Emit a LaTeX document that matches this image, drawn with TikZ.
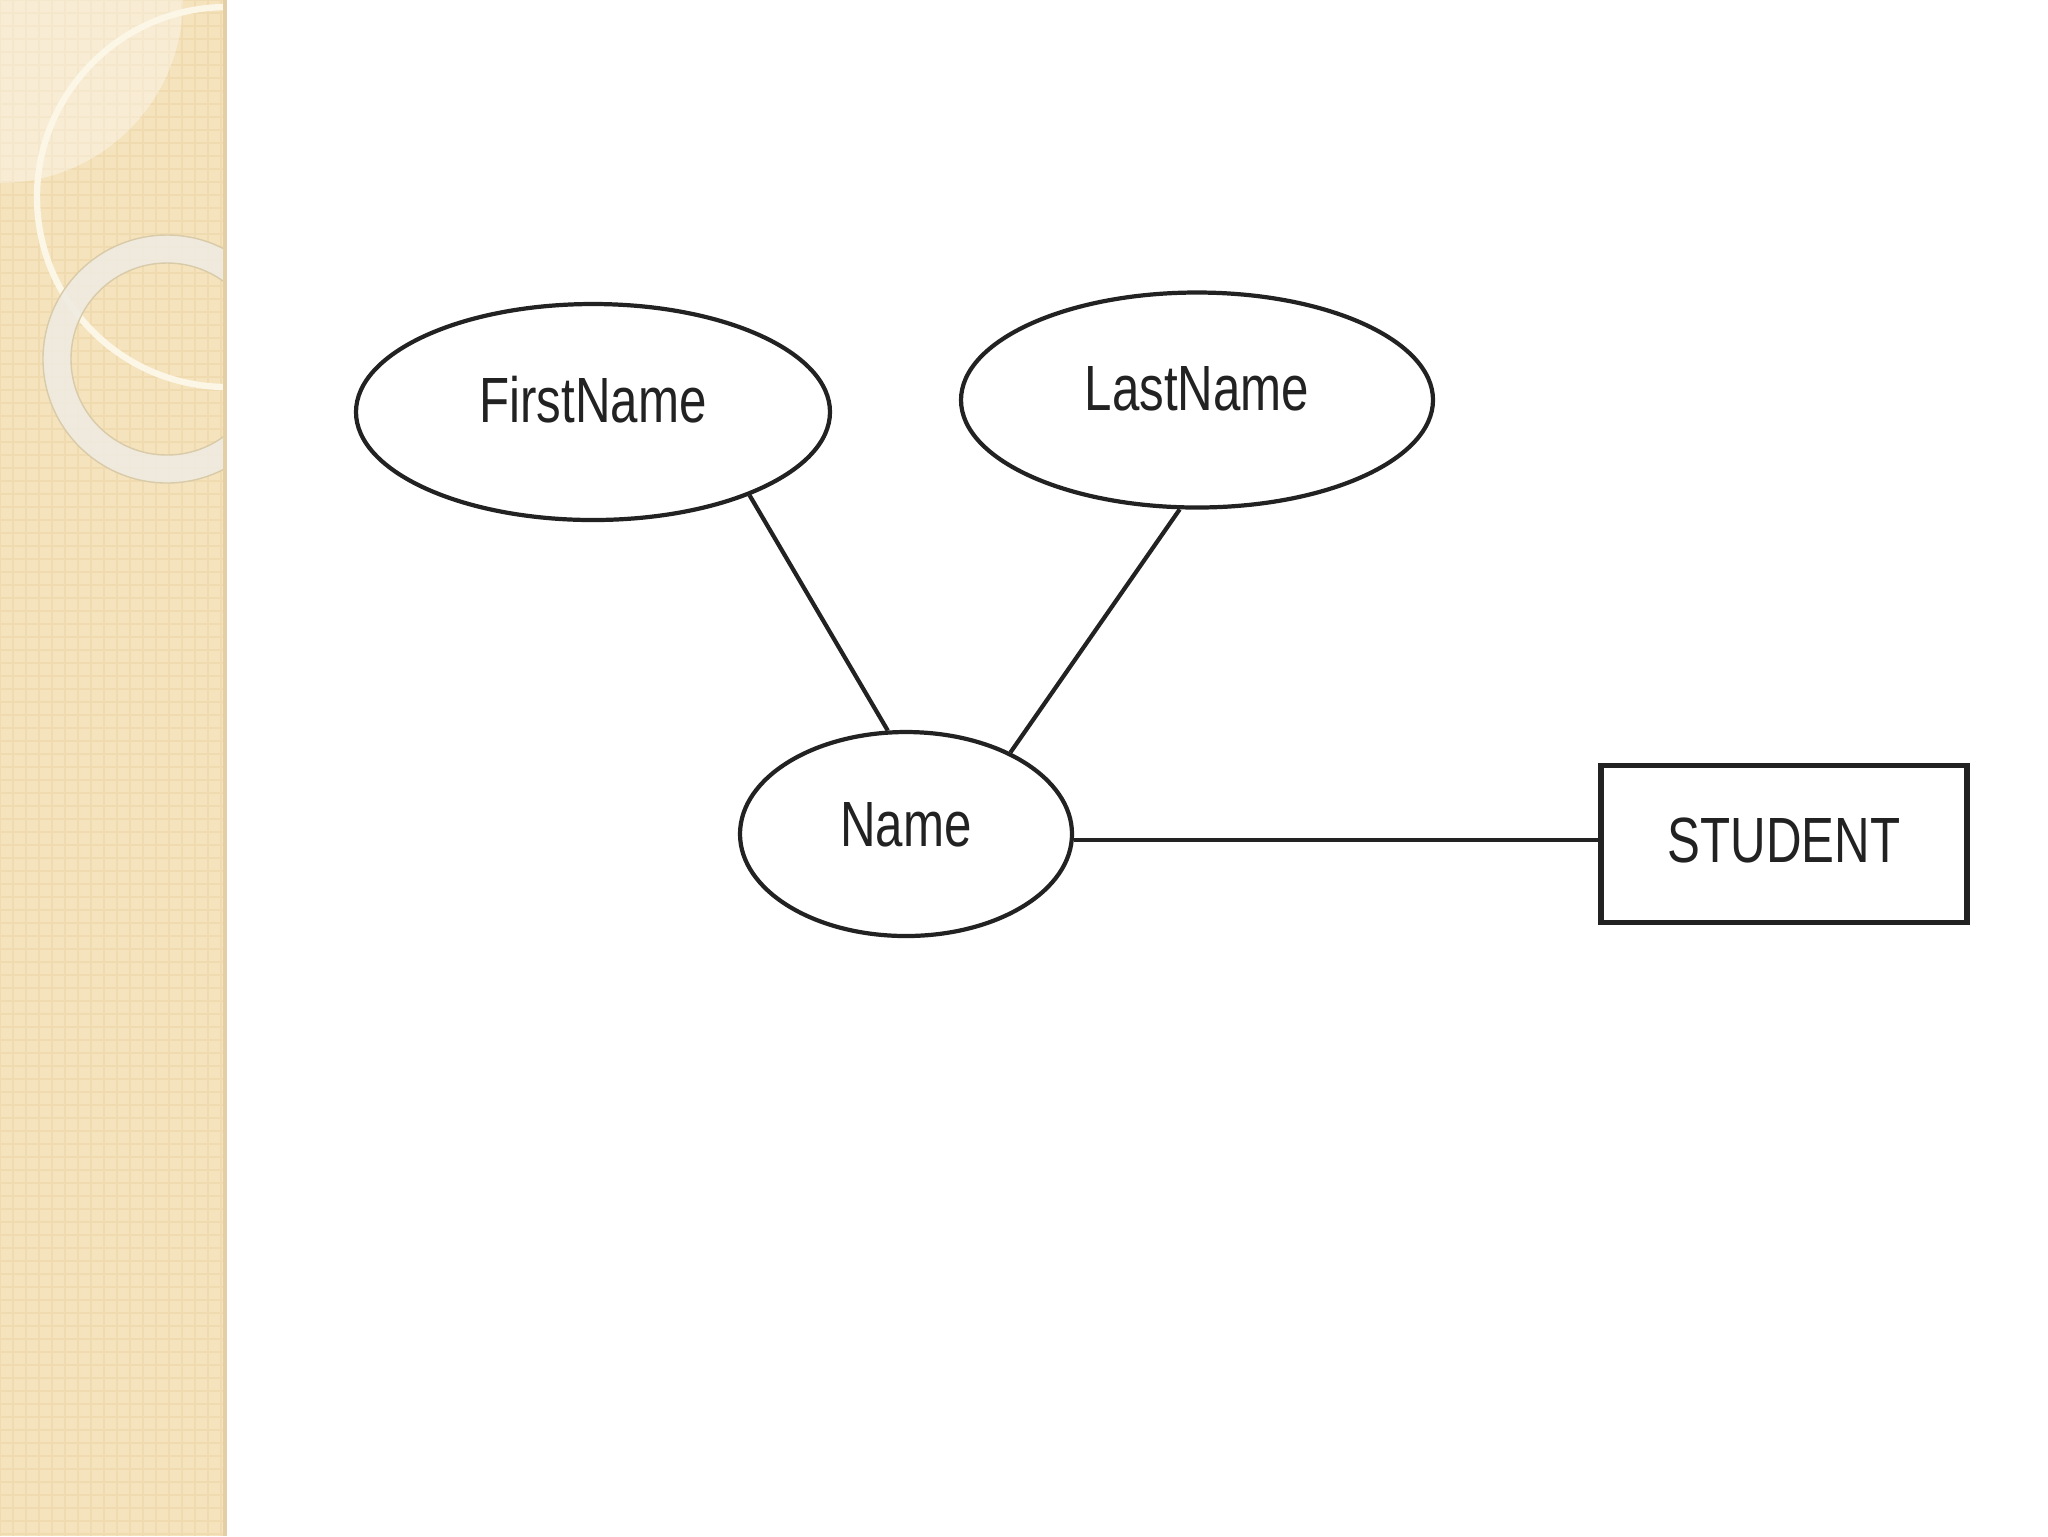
\documentclass[tikz,border=0pt]{standalone}
\usepackage{fontspec}
\setmainfont{Liberation Sans}[FakeStretch=0.77]
\usetikzlibrary{shapes.geometric, positioning}

\definecolor{bandbeige}{HTML}{F5E3BE}
\definecolor{bandgrid}{HTML}{F0DBB1}
\definecolor{bandedge}{HTML}{E2CFA6}
\definecolor{ringcream}{HTML}{FCF6E6}
\definecolor{ringgrey}{HTML}{EFEBE1}
\definecolor{ringedge}{HTML}{D9CBA8}
\definecolor{inkdark}{HTML}{222222}

\begin{document}
\begin{tikzpicture}[x=0.1mm, y=-0.1mm, line width=1.2pt, draw=inkdark,
  attribute/.style={ellipse, draw, inner sep=0pt, text=inkdark,
    font=\fontsize{18.2pt}{20pt}\selectfont, text height=4.6mm, text depth=2.6mm},
  entity/.style={rectangle, draw, line width=1.5pt, inner sep=0pt, text=inkdark,
    font=\fontsize{18.2pt}{20pt}\selectfont, text height=4.6mm, text depth=1mm,
    minimum width=36.6mm, minimum height=15.7mm}]
\useasboundingbox (0,0) rectangle (2048,1536);

% Side band
\fill[bandbeige] (0,0) rectangle (226,1536);
\begin{scope}
  \clip (0,0) rectangle (224,1536);
  \draw[bandgrid, line width=0.2mm, step=1.3mm] (0,0) grid (226,1536);
  \fill[white, opacity=0.35] (0,0) circle (183);
  \draw[ringcream, line width=1.8pt] (227,197) circle (190);
  \fill[ringgrey, opacity=0.9, even odd rule] (167,359) circle (124) (167,359) circle (96);
  \draw[ringedge, line width=0.4pt] (167,359) circle (124) (167,359) circle (96);
\end{scope}
\fill[bandedge] (223,0) rectangle (227,1536);

% Attributes
\node[attribute, minimum width=47.4mm, minimum height=21.6mm] (FirstName) at (593,412) {FirstName};
\node[attribute, minimum width=47.2mm, minimum height=21.5mm] (LastName) at (1197,400) {LastName};
\node[attribute, minimum width=33.2mm, minimum height=20.4mm, text depth=2.2mm] (Name) at (906,834) {Name};

% Entity
\node[entity] (Student) at (1784,844) {STUDENT};

% Links
\draw (FirstName.-28) -- (Name.100);
\draw (LastName.-99) -- (Name.38);
\draw (Name.-2) -- (Name.-2 -| Student.west);
\end{tikzpicture}
\end{document}
